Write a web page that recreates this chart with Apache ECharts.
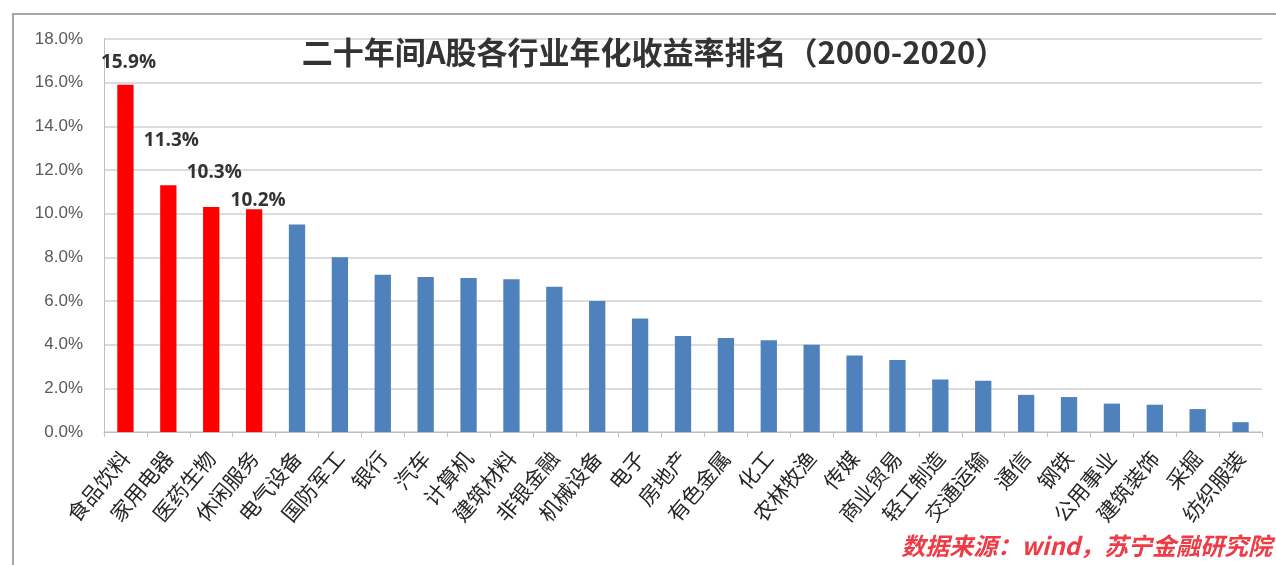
<!DOCTYPE html>
<html>
<head>
<meta charset="utf-8">
<script src="https://cdn.jsdelivr.net/npm/echarts@6/dist/echarts.min.js"></script>
<style>
html,body{margin:0;padding:0;background:#fff;}
#c{width:1276px;height:565px;}
</style>
</head>
<body>
<div id="c"></div>
<script>
const categories = ['食品饮料','家用电器','医药生物','休闲服务','电气设备','国防军工','银行','汽车','计算机','建筑材料','非银金融','机械设备','电子','房地产','有色金属','化工','农林牧渔','传媒','商业贸易','轻工制造','交通运输','通信','钢铁','公用事业','建筑装饰','采掘','纺织服装'];
const values = [15.9,11.3,10.3,10.2,9.5,8.0,7.2,7.1,7.05,7.0,6.65,6.0,5.2,4.4,4.3,4.2,4.0,3.5,3.3,2.4,2.35,1.7,1.6,1.3,1.25,1.05,0.45];
const highlightCount = 4;
const yTicks = {min:0, max:18, interval:2};
const titleText = '二十年间A股各行业年化收益率排名（2000-2020）';
const sourceText = '数据来源：wind，苏宁金融研究院';

const labelOffsets = [[3,-8],[3,-30],[3,-20],[4,6]];
const seriesData = values.map((v,i)=>{
  const item = {value:v, itemStyle:{color: i<highlightCount ? '#FF0000' : '#4F81BD'}};
  if(i<highlightCount){
    item.label = {show:true, position:'top', offset:labelOffsets[i], formatter: v.toFixed(1)+'%',
      fontFamily:'"Open Sans", "Liberation Sans", sans-serif', fontWeight:'bold', fontSize:19, color:'#333'};
  }
  return item;
});

const chart = echarts.init(document.getElementById('c'));
chart.setOption({
  animation:false,
  backgroundColor:'#fff',
  title:{text:titleText, left:649, textAlign:'center', top:32,
    textStyle:{fontFamily:'"Noto Sans CJK SC", sans-serif', fontSize:31, fontWeight:'bold', color:'#333'}},
  grid:{left:104, right:14, top:39, bottom:133, containLabel:false},
  xAxis:{type:'category', data:categories,
    axisLine:{show:true, lineStyle:{color:'#BFBFBF', width:1}},
    axisTick:{show:true, alignWithLabel:false, length:5, lineStyle:{color:'#BFBFBF'}},
    axisLabel:{rotate:50, interval:0, margin:22, fontSize:21, color:'#262626',
      fontFamily:'"Noto Sans CJK SC", sans-serif'}},
  yAxis:{type:'value', min:yTicks.min, max:yTicks.max, interval:yTicks.interval,
    axisLine:{show:true, lineStyle:{color:'#BFBFBF'}},
    axisTick:{show:false},
    splitLine:{lineStyle:{color:'#D0D0D0', width:1.5}},
    axisLabel:{formatter:v=>v.toFixed(1)+'%', fontSize:17, color:'#595959', margin:21,
      fontFamily:'"Liberation Sans", sans-serif'}},
  series:[{type:'bar', data:seriesData, barWidth:'38%'}],
  graphic:[
    {type:'rect', shape:{x:13,y:14,width:1300,height:600}, style:{fill:'none', stroke:'#A6A6A6', lineWidth:2}, z:-1},
    {type:'text', right:4, bottom:7, style:{text:sourceText, fill:'#EE3B45', fontSize:24, fontStyle:'italic', fontWeight:'bold',
      fontFamily:'"Noto Sans CJK SC", sans-serif'}}
  ]
});
</script>
</body>
</html>
